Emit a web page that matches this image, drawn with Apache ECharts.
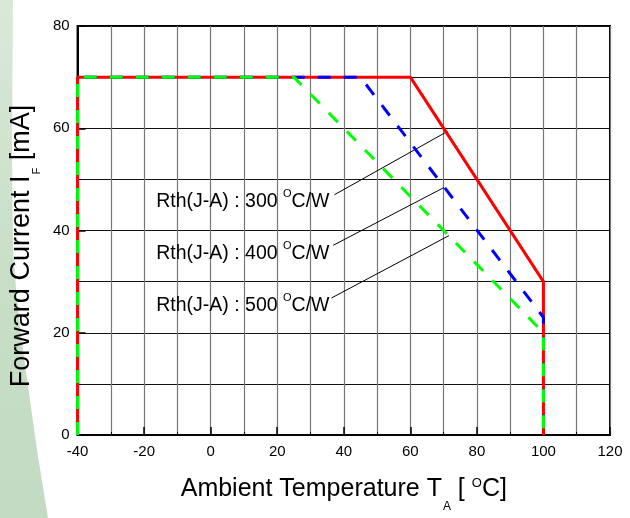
<!DOCTYPE html>
<html><head><meta charset="utf-8">
<script src="https://cdn.jsdelivr.net/npm/echarts@6/dist/echarts.min.js"></script>
<style>html,body{margin:0;padding:0;background:#fff}#c{width:630px;height:518px}</style>
</head><body><div id="c"></div>
<script>
// ---- data ----
const redX = [-40, -40, 60, 100, 100];
const redY = [0, 70, 70, 30, 0];
const blueX = [-40, -40, 45, 100, 100];
const blueY = [0, 70, 70, 23, 0];
const greenX = [-40, -40, 25, 100, 100];
const greenY = [0, 70, 70, 20, 0];
const xTicks = [-40, -20, 0, 20, 40, 60, 80, 100, 120];
const yTicks = [0, 20, 40, 60, 80];
const labelTexts = ['Rth(J-A) : 300', 'Rth(J-A) : 400', 'Rth(J-A) : 500'];
const labelAnchorX = [35.7, 35.7, 35.7];
const labelAnchorY = [45.7, 35.5, 25.4];
const leaderFromX = [37.2, 36.8, 36.3];
const leaderFromY = [47.0, 37.1, 26.8];
const leaderToX = [71.2, 70.1, 71.6];
const leaderToY = [59.4, 48.4, 39.0];

const F = 'Liberation Sans, Arial, Helvetica, sans-serif';
function pts(xs, ys) { return xs.map((x, i) => [x, ys[i]]); }

const chart = echarts.init(document.getElementById('c'), null, {renderer: 'canvas'});
chart.setOption({
  animation: false,
  backgroundColor: '#ffffff',
  graphic: [{
    type: 'polygon', z: -10, silent: true,
    shape: {points: [[0,0],[13,0],[12,150],[13,250],[17,300],[23,350],[30,400],[37,450],[48,518],[0,518]]},
    style: {fill: new echarts.graphic.LinearGradient(0,0,0,1,[{offset:0,color:'#d9e9d8'},{offset:0.5,color:'#c9dfc8'},{offset:1,color:'#c3dbc2'}])}
  }],
  grid: {left: 75, right: 20, top: 26, bottom: 78, show: true, borderColor: '#000', borderWidth: 2},
  xAxis: {
    type: 'value', min: -40, max: 120, interval: 20,
    axisLine: {show: true, onZero: false, lineStyle: {color: '#000', width: 2}},
    axisTick: {show: true, inside: true, length: 8, lineStyle: {color: '#000', width: 1.5}},
    minorTick: {show: true, splitNumber: 2, length: 3, lineStyle: {color: '#000', width: 1}},
    splitLine: {show: true, lineStyle: {color: '#777', width: 1.2}},
    minorSplitLine: {show: true, lineStyle: {color: '#777', width: 1.2}},
    axisLabel: {fontSize: 15, color: '#000', fontFamily: F, margin: 9,
      formatter: v => xTicks.includes(v) ? String(v) : ''},
    name: '{t|Ambient Temperature T}{sub|A}{t| [ }{sup|O}{t|C]}',
    nameLocation: 'middle', nameGap: 41,
    nameTextStyle: {fontFamily: F, color: '#000', rich: {
      t: {fontSize: 25, fontFamily: F, color: '#000', lineHeight: 26},
      sub: {fontSize: 12, fontFamily: F, color: '#000', lineHeight: 12, verticalAlign: 'top', padding: [25, 0, 0, 1]},
      sup: {fontSize: 13, fontFamily: F, color: '#000', lineHeight: 13, verticalAlign: 'top', padding: [1, 0, 0, 0]}
    }}
  },
  yAxis: {
    type: 'value', min: 0, max: 80, interval: 20,
    axisLine: {show: true, onZero: false, lineStyle: {color: '#000', width: 2}},
    axisTick: {show: true, inside: true, length: 8, lineStyle: {color: '#000', width: 1.5}},
    minorTick: {show: true, splitNumber: 2, length: 3, lineStyle: {color: '#000', width: 1}},
    splitLine: {show: true, lineStyle: {color: '#111', width: 1}},
    minorSplitLine: {show: true, lineStyle: {color: '#111', width: 1}},
    axisLabel: {fontSize: 15, color: '#000', fontFamily: F, margin: 8,
      formatter: v => yTicks.includes(v) ? String(v) : ''},
    name: '{t|Forward Current I}{sub|F}{t| [mA]}',
    nameLocation: 'middle', nameGap: 39, nameRotate: 90,
    nameTextStyle: {fontFamily: F, color: '#000', padding: [0, 31, 0, 0], rich: {
      t: {fontSize: 27, fontFamily: F, color: '#000', lineHeight: 28},
      sub: {fontSize: 11, fontFamily: F, color: '#000', lineHeight: 11, verticalAlign: 'top', padding: [23, 0, 0, 1]}
    }}
  },
  series: [
    {type: 'line', data: pts(redX, redY), symbol: 'none', clip: false, z: 5,
      lineStyle: {color: '#ff0000', width: 3}},
    {type: 'line', data: pts(blueX, blueY), symbol: 'none', clip: false, z: 6,
      lineStyle: {color: '#0000ff', width: 3, type: [13, 13]}},
    {type: 'line', data: pts(greenX, greenY), symbol: 'none', clip: false, z: 7,
      lineStyle: {color: '#00ff00', width: 3, type: [13, 13]}},
    {type: 'scatter', symbolSize: 0, z: 8, silent: true,
      itemStyle: {color: '#000', opacity: 1},
      data: labelAnchorX.map((x, i) => ({value: [x, labelAnchorY[i]], name: labelTexts[i]})),
      label: {show: true, position: 'left', distance: 0, color: '#000', opacity: 1,
        formatter: p => '{t|' + p.name + ' }{s|O}{t|C/W}',
        rich: {
          t: {fontSize: 19.5, fontFamily: F, color: '#000', lineHeight: 26},
          s: {fontSize: 11, fontFamily: F, color: '#000', lineHeight: 11, verticalAlign: 'top', padding: [0, 0, 0, 0]}
        }},
      markLine: {silent: true, symbol: 'none', label: {show: false},
        lineStyle: {color: '#000', width: 1, type: 'solid'},
        emphasis: {disabled: true},
        data: leaderFromX.map((x, i) => [{coord: [x, leaderFromY[i]]}, {coord: [leaderToX[i], leaderToY[i]]}])}
    }
  ]
});
</script></body></html>
